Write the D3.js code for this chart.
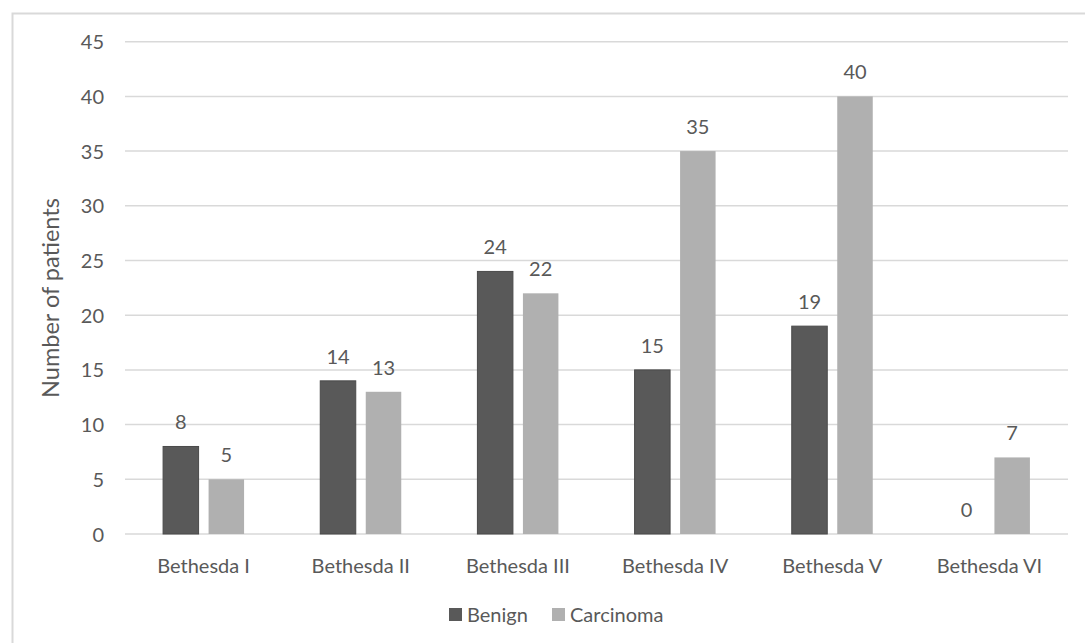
<!DOCTYPE html>
<html>
<head>
<meta charset="utf-8">
<script src="https://cdn.jsdelivr.net/npm/d3@7"></script>
<style>
  body { margin: 0; background: #fff; }
  svg { display: block; font-family: Lato, "Open Sans", sans-serif; }
</style>
</head>
<body>
<svg id="chart" width="1085" height="643"></svg>
<script>
const categories = ["Bethesda I", "Bethesda II", "Bethesda III", "Bethesda IV", "Bethesda V", "Bethesda VI"];
const seriesNames = ["Benign", "Carcinoma"];
const benign = [8, 14, 24, 15, 19, 0];
const carcinoma = [5, 13, 22, 35, 40, 7];
const yTicks = [0, 5, 10, 15, 20, 25, 30, 35, 40, 45];
const colors = ["#595959", "#b0b0b0"];

(function() {
const svg = d3.select("#chart");
const textColor = "#595959";

// outer frame
svg.append("rect").attr("x", 12.5).attr("y", 13.5).attr("width", 1100).attr("height", 700)
  .attr("fill", "none").attr("stroke", "#d9d9d9").attr("stroke-width", 2);

const pLeft = 125, pRight = 1068, pTop = 41.7, pBottom = 534;
const x = d3.scaleBand().domain(categories).range([pLeft, pRight]).padding(0);
const y = d3.scaleLinear().domain([0, 45]).range([pBottom, pTop]);

// gridlines
svg.append("g").selectAll("line").data(yTicks).join("line")
  .attr("x1", pLeft).attr("x2", pRight)
  .attr("y1", d => y(d)).attr("y2", d => y(d))
  .attr("stroke", "#d9d9d9").attr("stroke-width", 1.5);

// y axis labels
const yAxis = d3.axisLeft(y).tickValues(yTicks).tickSize(0).tickPadding(0);
const gy = svg.append("g").attr("transform", `translate(${pLeft - 21},0)`).call(yAxis);
gy.select(".domain").remove();
gy.selectAll("text").attr("fill", textColor).style("font-size", "20px")
  .attr("font-family", "Lato, sans-serif").attr("dy", "0.35em");

// x axis labels
const xAxis = d3.axisBottom(x).tickSize(0).tickPadding(0);
const gx = svg.append("g").attr("transform", `translate(0,${pBottom + 25})`).call(xAxis);
gx.select(".domain").remove();
gx.selectAll("text").attr("fill", textColor).style("font-size", "20px")
  .attr("font-family", "Lato, sans-serif").attr("dy", "0.35em").attr("y", 7);

// bars
const barW = 35.5, gap = 10;
const data = categories.map((c, i) => ({c, vals: [benign[i], carcinoma[i]]}));
const groups = svg.append("g").selectAll("g").data(data).join("g");
groups.each(function(d) {
  const cx = x(d.c) + x.bandwidth() / 2;
  const g = d3.select(this);
  d.vals.forEach((v, k) => {
    const bx = k === 0 ? cx - gap / 2 - barW : cx + gap / 2;
    if (v > 0) {
      g.append("rect").attr("x", bx).attr("width", barW)
        .attr("y", y(v)).attr("height", y(0) - y(v))
        .attr("fill", colors[k])
        .attr("stroke", k === 0 ? "#4a4a4a" : "none").attr("stroke-width", 1);
    }
    g.append("text").attr("x", bx + barW / 2).attr("y", y(v) - 17)
      .attr("text-anchor", "middle").attr("fill", textColor)
      .style("font-size", "20px").text(v);
  });
});

// y title
svg.append("text").attr("transform", `translate(59,${(193 + 403) / 2}) rotate(-90)`)
  .attr("text-anchor", "middle").attr("fill", textColor)
  .style("font-size", "23.5px").text("Number of patients");

// legend
const legX = [449, 552];
seriesNames.forEach((s, k) => {
  svg.append("rect").attr("x", legX[k]).attr("y", 608).attr("width", 13).attr("height", 13)
    .attr("fill", colors[k]);
  svg.append("text").attr("x", legX[k] + 18).attr("y", 614.5).attr("dy", "0.35em")
    .attr("fill", textColor).style("font-size", "20px").text(s);
});
})();
</script>
</body>
</html>
